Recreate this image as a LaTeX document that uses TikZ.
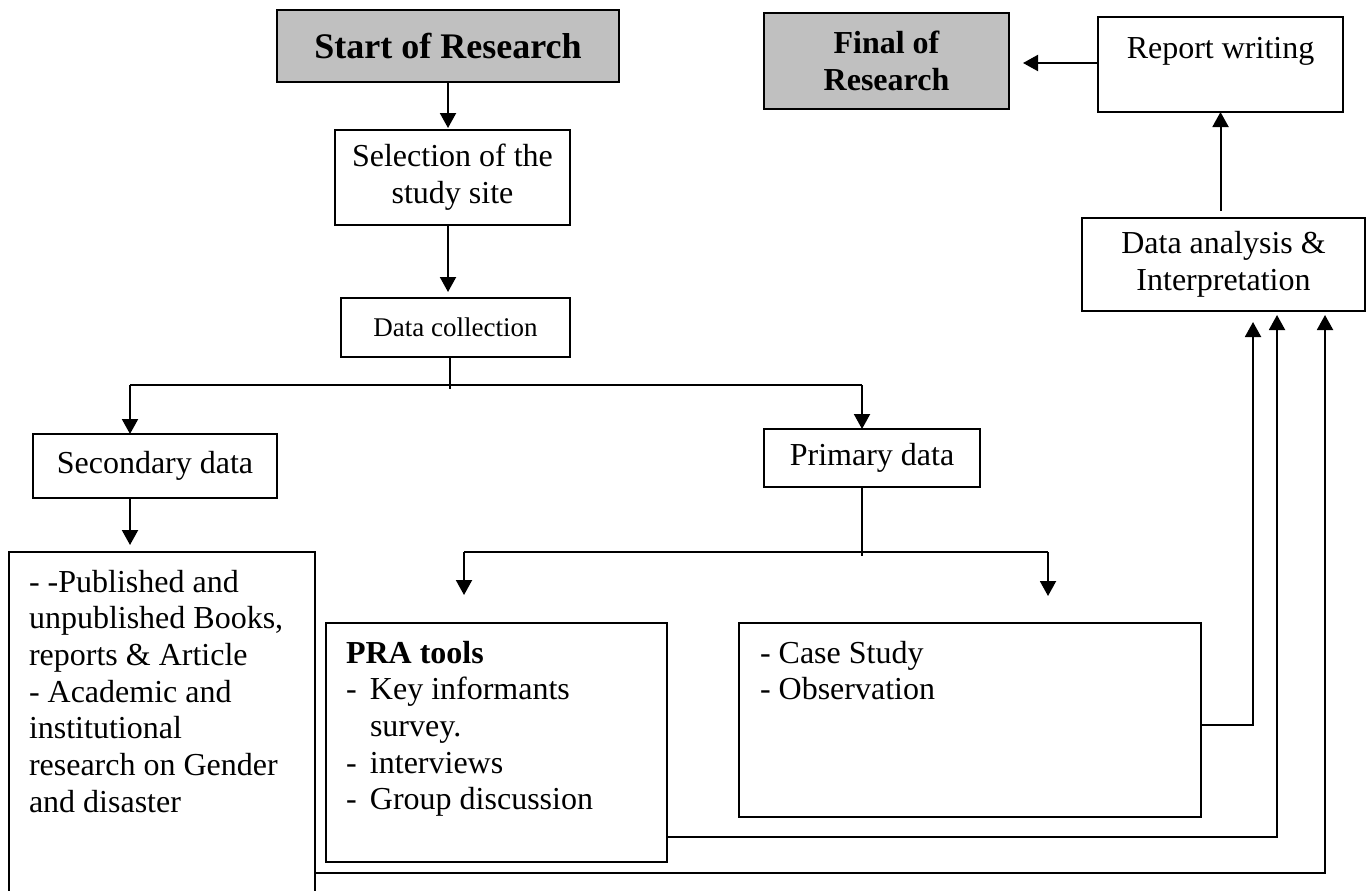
\documentclass[tikz,border=0pt]{standalone}
\usepackage{fontspec}
\setmainfont{Liberation Serif}
\usetikzlibrary{arrows.meta}
\tikzset{
  boxx/.style={draw=black, line width=1pt, inner sep=0pt, outer sep=0pt, align=center,
    font=\fontsize{16pt}{18.4pt}\selectfont},
  graybox/.style={boxx, fill={rgb,255:red,192;green,192;blue,192}},
  txt/.style={inner sep=0pt, outer sep=0pt, anchor=base west,
    font=\fontsize{16pt}{18.35pt}\selectfont},
  arr/.style={line width=1pt, -{Triangle[width=8pt,length=7.5pt]}},
  ln/.style={line width=0.8pt},
}
\newcommand{\dsh}{\makebox[12pt][l]{-}}
\begin{document}
\begin{tikzpicture}[x=0.5pt,y=-0.5pt]
\useasboundingbox (0,0) rectangle (1369,890);
\fill[white] (0,0) rectangle (1369,890);
\clip (0,0) rectangle (1369,890);

% boxes
\node[graybox, minimum width=171pt, minimum height=36pt, font=\fontsize{18pt}{20pt}\selectfont\bfseries] (start) at (448,46) {Start of Research};
\node[boxx, minimum width=117.5pt, minimum height=47.5pt] (sel) at (452.5,177.5) {Selection of the\\study site};
\node[boxx, minimum width=114.5pt, minimum height=29.5pt, font=\fontsize{13.5pt}{16pt}\selectfont] (dc) at (455.5,327.5) {Data collection};
\node[boxx, minimum width=122pt, minimum height=32pt] (sec) at (155,466) {Secondary data};
\node[boxx, minimum width=108pt, minimum height=29pt] (prim) at (872,458) {Primary data};
\node[graybox, minimum width=122.5pt, minimum height=48pt, font=\fontsize{16pt}{18.5pt}\selectfont\bfseries] (fin) at (886.5,61) {Final of\\Research};
\node[boxx, minimum width=122.5pt, minimum height=47.5pt] (rep) at (1220.5,64.5) {};
\node[txt, anchor=base] (reptxt) at (1220.5,58) {Report writing};
\node[boxx, minimum width=141.5pt, minimum height=46.5pt] (an) at (1223.5,264.5) {Data analysis \&\\Interpretation};
\node[boxx, minimum width=153pt, minimum height=174pt] (lbox) at (162,726) {};
\node[boxx, minimum width=170.5pt, minimum height=119.5pt] (pra) at (496.5,742.5) {};
\node[boxx, minimum width=231pt, minimum height=97pt] (case) at (970,720) {};

% box texts
\node[txt] (ltxt) at (29,592) {\begin{minipage}[t]{150pt}\raggedright
- -Published and\\
unpublished Books,\\
reports \& Article\\
- Academic and\\
institutional\\
research on Gender\\
and disaster\end{minipage}};
\node[txt] (ptxt) at (346,663) {\begin{minipage}[t]{160pt}\raggedright
\textbf{PRA tools}\\
\dsh Key informants\\
\hspace*{12pt}survey.\\
\dsh interviews\\
\dsh Group discussion\end{minipage}};
\node[txt] (ctxt) at (760,663) {\begin{minipage}[t]{200pt}\raggedright
- Case Study\\
- Observation\end{minipage}};

% coordinates
\coordinate (j) at (450,385);
\coordinate (jb) at (450,389);
\coordinate (bl) at (130,385);
\coordinate (br) at (862,385);
\coordinate (pj) at (862,556);
\coordinate (pl) at (464,552);
\coordinate (pr) at (1048,552);
\coordinate (c1) at (1253,725);
\coordinate (c2) at (1277,837);
\coordinate (c3) at (1325,873);

% connectors
\draw[arr, shorten >=1pt] (start.south) -- (start.south |- sel.north);
\draw[arr, shorten >=3pt] (sel.south -| start.south) -- (start.south |- dc.north);
\draw[ln] (dc.south -| j) -- (jb);
\draw[ln] (bl) -- (br);
\draw[arr] (bl) -- (bl |- sec.north);
\draw[arr] (br) -- (br |- prim.north);
\draw[arr, shorten >=3.5pt] (sec.south -| bl) -- (bl |- lbox.north);
\draw[ln] (prim.south -| pj) -- (pj);
\draw[ln] (pl) -- (pr);
\draw[arr, shorten >=14pt] (pl) -- (pl |- pra.north);
\draw[arr, shorten >=13.5pt] (pr) -- (pr |- case.north);
\draw[arr, shorten >=5.5pt] (case.east |- c1) -- (c1) -- (c1 |- an.south);
\draw[arr, shorten >=2pt] (pra.east |- c2) -- (c2) -- (c2 |- an.south);
\draw[arr, shorten >=2pt] (lbox.east |- c3) -- (c3) -- (c3 |- an.south);
\draw[arr, shorten <=3.5pt] (an.north -| rep.south) -- (rep.south);
\draw[arr, shorten >=7pt] (rep.west |- 0,63) -- (fin.east |- 0,63);
\end{tikzpicture}
\end{document}
